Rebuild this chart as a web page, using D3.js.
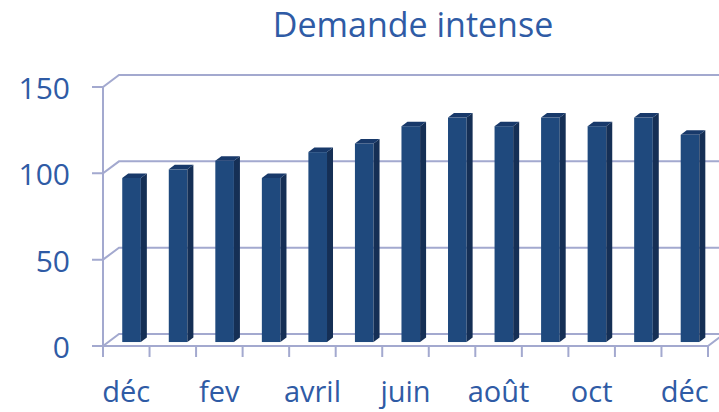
<!DOCTYPE html>
<html>
<head>
<meta charset="utf-8">
<script src="https://cdn.jsdelivr.net/npm/d3@7"></script>
<style>
  body { margin: 0; background: #fff; }
  text { font-family: "Open Sans", "Noto Sans", sans-serif; fill: #2F5BA5; }
</style>
</head>
<body>
<svg></svg>
<script>
// data
const months = ['déc', 'jan', 'fev', 'mar', 'avril', 'mai', 'juin', 'juil', 'août', 'sept', 'oct', 'nov', 'déc'];
const values = [95, 100, 105, 95, 110, 115, 125, 130, 125, 130, 125, 130, 120];
const yTicks = [0, 50, 100, 150];
const title = 'Demande intense';

// constants
const WIDTH = 719;
const HEIGHT = 412;
const LEFT = 103;
const RIGHT = 708;
const BOTTOM = 346;
const TOP = 87;
const DEPTH_X = 16;
const DEPTH_Y = 12;
const GRID = '#A3A9CF';

const svg = d3.select('svg')
    .attr('width', WIDTH)
    .attr('height', HEIGHT);

const x = d3.scaleBand()
    .domain(d3.range(months.length))
    .range([LEFT, RIGHT]);

const y = d3.scaleLinear()
    .domain([0, 150])
    .range([BOTTOM, TOP]);

// title
svg.append('text')
    .attr('x', 413)
    .attr('y', 37)
    .attr('text-anchor', 'middle')
    .attr('font-size', 34)
    .text(title);

// walls and gridlines
const grid = svg.append('g')
    .attr('fill', 'none')
    .attr('stroke', GRID)
    .attr('stroke-width', 2);

grid.selectAll('path.grid')
    .data(yTicks).join('path')
    .attr('class', 'grid')
    .attr('d', d => `M${LEFT - 11},${y(d)} H${LEFT} L${LEFT + DEPTH_X},${y(d) - DEPTH_Y} H${WIDTH + 10}`);

grid.append('line')
    .attr('x1', LEFT).attr('x2', LEFT)
    .attr('y1', y(150)).attr('y2', y(0));

grid.append('path')
    .attr('d', `M${LEFT},${BOTTOM} H${RIGHT} L${RIGHT + DEPTH_X},${BOTTOM - DEPTH_Y}`);

grid.selectAll('line.tick')
    .data(d3.range(months.length + 1)).join('line')
    .attr('class', 'tick')
    .attr('x1', i => LEFT + i * x.step())
    .attr('x2', i => LEFT + i * x.step())
    .attr('y1', BOTTOM)
    .attr('y2', BOTTOM + 11);

// y labels
svg.selectAll('text.ylab')
    .data(yTicks).join('text')
    .attr('class', 'ylab')
    .attr('x', 70)
    .attr('y', d => y(d) + 12)
    .attr('text-anchor', 'end')
    .attr('font-size', 30)
    .text(d => d);

// x labels (every other month)
svg.selectAll('text.xlab')
    .data(months.map((m, i) => ({ m, i })).filter(d => d.i % 2 === 0)).join('text')
    .attr('class', 'xlab')
    .attr('x', d => x(d.i) + x.bandwidth() / 2)
    .attr('y', 402)
    .attr('text-anchor', 'middle')
    .attr('font-size', 29)
    .text(d => d.m);

// bars: front face sits at 1/3 of the depth, bar depth ~ 3/8 of it
const t0 = 0.33;
const bdx = 6;
const bdy = 4.5;
const barW = x.bandwidth() * 0.4;

const bar = svg.selectAll('g.bar')
    .data(values).join('g')
    .attr('class', 'bar')
    .attr('transform', (d, i) => `translate(${x(i) + (x.bandwidth() - barW) / 2 + DEPTH_X * t0}, ${-DEPTH_Y * t0})`);

bar.append('rect')
    .attr('y', d => y(d))
    .attr('width', barW)
    .attr('height', d => y(0) - y(d))
    .attr('fill', '#1F497D');

bar.append('path')
    .attr('d', d => `M${barW},${y(d)} L${barW + bdx},${y(d) - bdy} V${y(0) - bdy} L${barW},${y(0)} Z`)
    .attr('fill', '#152F55');

bar.append('path')
    .attr('d', d => `M0,${y(d)} L${bdx},${y(d) - bdy} H${barW + bdx} L${barW},${y(d)} Z`)
    .attr('fill', '#18396A');
</script>
</body>
</html>
